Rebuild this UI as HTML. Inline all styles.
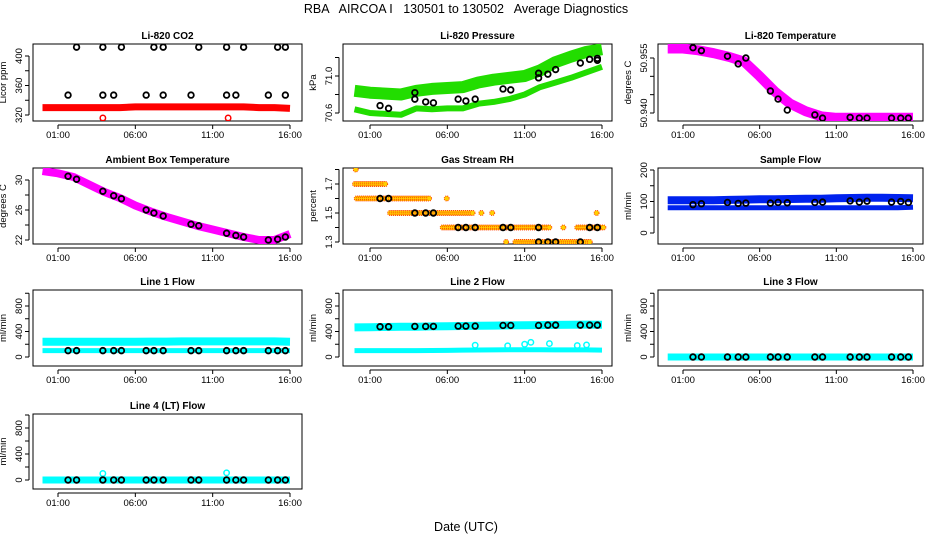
<!DOCTYPE html>
<html><head><meta charset="utf-8">
<style>
html,body{margin:0;padding:0;background:#fff;}
svg{display:block;font-family:"Liberation Sans",sans-serif;}
</style></head>
<body>
<svg id="chart" width="936" height="540" viewBox="0 0 936 540" xmlns="http://www.w3.org/2000/svg">
<rect width="936" height="540" fill="#fff"/>
<text x="466" y="13" font-size="12.5" text-anchor="middle" xml:space="preserve">RBA   AIRCOA I   130501 to 130502   Average Diagnostics</text>
<text x="466" y="531" font-size="12.5" text-anchor="middle">Date (UTC)</text>
</svg>
<script>
// ---- data ----
const xTickHours = [1, 6, 11, 16];
const xTickLabels = ["01:00", "06:00", "11:00", "16:00"];
const bandT = [0,1,2,3,4,5,6,7,8,9,10,11,12,13,14,15,16];
const avgT = [1.65,2.2,3.9,4.6,5.1,6.7,7.2,7.8,9.6,10.1,11.9,12.5,13.0,14.6,15.2,15.7];

const co2Red = [330,330,330,330,330,330,331,331,331,331,331,331,331,331,330,330,329];
const co2RedOutT = [3.9, 12.0];
const co2RedOutV = [316, 316];
const co2AvgT = [2.2,3.9,5.1,7.2,7.8,10.1,11.9,13.0,15.2,15.7,1.65,3.9,4.6,6.7,7.8,9.6,11.9,12.5,14.6,15.7];
const co2AvgV = [412,412,412,412,412,412,412,412,412,412,347,347,347,347,347,347,347,347,347,347];

const presUpper = [70.84,70.82,70.81,70.80,70.84,70.86,70.87,70.88,70.93,70.96,70.98,71.0,71.06,71.15,71.21,71.26,71.29];
const presLower = [70.64,70.60,70.59,70.58,70.65,70.64,70.65,70.65,70.70,70.72,70.75,70.80,70.88,70.93,70.98,71.04,71.10];
const presAvgT = [1.65,2.2,3.9,3.9,4.6,5.1,6.7,7.2,7.8,9.6,10.1,11.9,11.9,12.5,13.0,14.6,15.2,15.7,15.7];
const presAvgV = [70.68,70.65,70.82,70.75,70.72,70.71,70.75,70.73,70.75,70.86,70.85,70.98,71.03,71.02,71.07,71.14,71.18,71.19,71.17];

const liTemp = [50.9576,50.9576,50.9571,50.9563,50.9553,50.9540,50.9500,50.9458,50.9425,50.9405,50.9391,50.9387,50.9387,50.9387,50.9387,50.9387,50.9387];
const liTempAvgV = [50.9578,50.9570,50.9555,50.9534,50.9550,50.9460,50.9438,50.9408,50.9395,50.9386,50.9388,50.9386,50.9386,50.9386,50.9386,50.9386];

const ambTemp = [31.2,30.9,30.4,29.4,28.4,27.6,26.6,25.8,25.1,24.5,23.9,23.4,22.9,22.4,22.0,22.0,22.8];
const ambAvgV = [30.5,30.1,28.5,27.9,27.5,26.0,25.6,25.2,24.1,23.9,22.9,22.6,22.4,22.0,22.1,22.4];

const rhLevel = [1.8,1.7,1.6,1.6,1.5,1.5,1.5,1.5,1.4,1.4,1.4,1.3,1.3];
const rhStart = [0.08,0.03,0.14,5.96,2.3,8.2,8.9,15.65,5.7,13.5,14.4,9.8,10.4];
const rhEnd   = [0.08,2.0,4.9,5.96,7.7,8.2,8.9,15.65,12.6,13.5,16.1,9.8,15.3];
const rhAvgT = [1.65,2.2,3.9,4.6,5.1,6.7,7.2,7.8,9.6,10.1,11.9,11.9,12.5,13.0,14.6,15.2,15.7];
const rhAvgV = [1.6,1.6,1.5,1.5,1.5,1.4,1.4,1.4,1.4,1.4,1.4,1.3,1.3,1.3,1.3,1.4,1.4];

const sampUpper = [104,104,104,104,105,106,107,107,108,109,109,110,111,112,112,111,110];
const sampLower = [80,80,80,80,80,80,80,80,80,80,80,80,80,80,80,80,82];
const sampAvgV = [90,93,97,94,95,95,97,96,97,98,102,98,101,98,100,97];

const l1Upper = [240,240,240,240,240,240,240,242,242,244,244,244,244,244,244,244,240];
const l1Lower = [100,100,100,100,100,100,100,100,100,100,100,100,100,100,100,100,100];
const l1AvgV = [100,100,100,100,100,100,100,100,100,100,100,100,100,100,100,100];

const l2Upper = [465,468,470,473,476,480,483,486,490,493,496,498,500,503,506,508,505];
const l2Lower = [100,100,100,100,100,102,104,108,110,112,114,115,115,112,112,112,108];
const l2AvgV = [475,475,480,480,480,485,485,485,495,495,495,500,500,500,500,500];
const l2SpikeT = [7.8,9.9,11.0,11.4,12.6,14.4,15.0];
const l2SpikeV = [185,175,200,230,210,180,190];

const l3Band = [0,0,0,0,0,0,0,0,0,0,0,0,0,0,0,0,0];
const l3AvgV = [0,0,0,0,0,0,0,0,0,0,0,0,0,0,0,0];

const l4Band = [0,0,0,0,0,0,0,0,0,0,0,0,0,0,0,0,0];
const l4SpikeT = [3.9, 11.9];
const l4SpikeV = [100, 110];
const l4AvgV = [0,0,0,0,0,0,0,0,0,0,0,0,0,0,0,0];

// ---- drawing ----
const NS = "http://www.w3.org/2000/svg";
const svg = document.getElementById("chart");
const cols = [{l:33,r:302,x1:58,x16:290},{l:343,r:612,x1:370,x16:602},{l:658,r:923,x1:683,x16:913}];
const rows = [{t:44,b:121},{t:168,b:244},{t:290,b:366},{t:414,b:489}];

function mk(tag, attrs, parent){const e=document.createElementNS(NS,tag);for(const k in attrs)e.setAttribute(k,attrs[k]);(parent||svg).appendChild(e);return e;}

function panel(o){
  const c=cols[o.col], r=rows[o.row];
  const g=mk("g",{});
  
  
  const xs=h=>c.x1+(h-1)*(c.x16-c.x1)/15;
  const ys=v=>o.p1+(v-o.v1)*(o.p2-o.p1)/(o.v2-o.v1);
  const box=mk("rect",{x:c.l,y:r.t,width:c.r-c.l,height:r.b-r.t,fill:"none",stroke:"#000","stroke-width":1},g);
  
  
  const tt=mk("text",{x:(c.l+c.r)/2,y:r.t-5,"font-size":10,"font-weight":"bold","text-anchor":"middle"},g);
  tt.textContent=o.title;
  
  
  const xa=mk("g",{},g);
  
  
  mk("line",{x1:xs(xTickHours[0]),x2:xs(xTickHours[xTickHours.length-1]),y1:r.b+4,y2:r.b+4,stroke:"#000"},xa);
  xTickHours.forEach((h,i)=>{
    mk("line",{x1:xs(h),x2:xs(h),y1:r.b+4,y2:r.b+8,stroke:"#000"},xa);
    const t=mk("text",{x:xs(h),y:r.b+17,"font-size":9.5,"text-anchor":"middle"},xa);
    t.textContent=xTickLabels[i];
    
    
  });
  const ya=mk("g",{},g);
  
  
  const ax=c.l-4;
  mk("line",{x1:ax,x2:ax,y1:ys(o.yTicks[0]),y2:ys(o.yTicks[o.yTicks.length-1]),stroke:"#000"},ya);
  o.yTicks.forEach(v=>mk("line",{x1:ax-4,x2:ax,y1:ys(v),y2:ys(v),stroke:"#000"},ya));
  o.yLabels.forEach(v=>{
    const y=ys(v), x=ax-7;
    const t=mk("text",{x:x,y:y,"font-size":9.5,"text-anchor":"middle",transform:`rotate(-90 ${x} ${y})`},ya);
    t.textContent=o.fmt?o.fmt(v):String(v);
    
    
  });
  const yl=c.l-27, ym=(r.t+r.b)/2;
  const yt=mk("text",{x:yl,y:ym,"font-size":9.5,"text-anchor":"middle",transform:`rotate(-90 ${yl} ${ym})`},ya);
  yt.textContent=o.ylab;
  
  
  const clipId="clip"+o.col+o.row;
  const cp=mk("clipPath",{id:clipId},g);
  mk("rect",{x:c.l,y:r.t,width:c.r-c.l,height:r.b-r.t},cp);
  const dg=mk("g",{"clip-path":`url(#${clipId})`},g);
  (o.bands||[]).forEach(b=>{
    const pts=bandT.map((t,i)=>xs(t).toFixed(1)+","+ys(b.v[i]).toFixed(1)).join(" ");
    const pl=mk("polyline",{points:pts,fill:"none",stroke:b.color,"stroke-width":b.w,"stroke-linejoin":"round","stroke-linecap":"butt"},dg);
    
    
  });
  (o.extra||[]).forEach(e=>{
    e.t.forEach((t,i)=>{
      const ci=mk("circle",{cx:xs(t),cy:ys(e.v[i]),r:2.7,fill:"none",stroke:e.color,"stroke-width":1.5},dg);
      
      
    });
  });
  (o.segs||[]).forEach(s=>{
    s.level.forEach((lv,i)=>{
      for(let t=s.start[i]; t<=s.end[i]+1e-6; t+=0.13){
        const ci=mk("circle",{cx:xs(t),cy:ys(lv),r:2.5,fill:"#ffd000",stroke:"#ff4000","stroke-width":1,"stroke-dasharray":"1 1"},dg);
        
        
      }
    });
  });
  o.avgT.forEach((t,i)=>{
    const ci=mk("circle",{cx:xs(t),cy:ys(o.avgV[i]),r:2.8,fill:"none",stroke:"#000","stroke-width":1.8},dg);
    
    
  });
}

panel({name:"co2-panel",col:0,row:0,title:"Li-820 CO2",ylab:"Licor ppm",v1:320,p1:115,v2:400,p2:56,
  yTicks:[320,340,360,380,400],yLabels:[320,360,400],
  bands:[{v:co2Red,color:"#ff0000",w:7}],extra:[{t:co2RedOutT,v:co2RedOutV,color:"#ff0000"}],
  avgT:co2AvgT,avgV:co2AvgV});
panel({name:"pressure-panel",col:1,row:0,title:"Li-820 Pressure",ylab:"kPa",v1:70.6,p1:113,v2:71.0,p2:76,
  yTicks:[70.6,70.8,71.0,71.2],yLabels:[70.6,71.0],fmt:v=>v.toFixed(1),
  bands:[{v:presUpper,color:"#22dd00",w:12},{v:presLower,color:"#22dd00",w:6}],
  avgT:presAvgT,avgV:presAvgV});
panel({name:"li820-temperature-panel",col:2,row:0,title:"Li-820 Temperature",ylab:"degrees C",v1:50.940,p1:113,v2:50.955,p2:58,
  yTicks:[50.940,50.945,50.950,50.955],yLabels:[50.940,50.955],fmt:v=>v.toFixed(3),
  bands:[{v:liTemp,color:"#ff00ff",w:10}],avgT:avgT,avgV:liTempAvgV});
panel({name:"ambient-temperature-panel",col:0,row:1,title:"Ambient Box Temperature",ylab:"degrees C",v1:22,p1:240,v2:30,p2:180,
  yTicks:[22,24,26,28,30],yLabels:[22,26,30],
  bands:[{v:ambTemp,color:"#ff00ff",w:8}],avgT:avgT,avgV:ambAvgV});
panel({name:"gas-rh-panel",col:1,row:1,title:"Gas Stream RH",ylab:"percent",v1:1.3,p1:242,v2:1.7,p2:184,
  yTicks:[1.3,1.4,1.5,1.6,1.7,1.8],yLabels:[1.3,1.5,1.7],fmt:v=>v.toFixed(1),
  segs:[{level:rhLevel,start:rhStart,end:rhEnd}],avgT:rhAvgT,avgV:rhAvgV});
panel({name:"sample-flow-panel",col:2,row:1,title:"Sample Flow",ylab:"ml/min",v1:0,p1:233,v2:200,p2:170,
  yTicks:[0,50,100,150,200],yLabels:[0,100,200],
  bands:[{v:sampUpper,color:"#0022ee",w:8},{v:sampLower,color:"#0022ee",w:5}],avgT:avgT,avgV:sampAvgV});
panel({name:"line1-flow-panel",col:0,row:2,title:"Line 1 Flow",ylab:"ml/min",v1:0,p1:357,v2:800,p2:306,
  yTicks:[0,200,400,600,800,1000],yLabels:[0,400,800],
  bands:[{v:l1Upper,color:"#00ffff",w:8},{v:l1Lower,color:"#00ffff",w:5}],avgT:avgT,avgV:l1AvgV});
panel({name:"line2-flow-panel",col:1,row:2,title:"Line 2 Flow",ylab:"ml/min",v1:0,p1:357,v2:800,p2:306,
  yTicks:[0,200,400,600,800,1000],yLabels:[0,400,800],
  bands:[{v:l2Upper,color:"#00ffff",w:8},{v:l2Lower,color:"#00ffff",w:5}],
  extra:[{t:l2SpikeT,v:l2SpikeV,color:"#00ffff"}],avgT:avgT,avgV:l2AvgV});
panel({name:"line3-flow-panel",col:2,row:2,title:"Line 3 Flow",ylab:"ml/min",v1:0,p1:357,v2:800,p2:306,
  yTicks:[0,200,400,600,800,1000],yLabels:[0,400,800],
  bands:[{v:l3Band,color:"#00ffff",w:7}],avgT:avgT,avgV:l3AvgV});
panel({name:"line4-flow-panel",col:0,row:3,title:"Line 4 (LT) Flow",ylab:"ml/min",v1:0,p1:480,v2:800,p2:428,
  yTicks:[0,200,400,600,800,1000],yLabels:[0,400,800],
  bands:[{v:l4Band,color:"#00ffff",w:7}],extra:[{t:l4SpikeT,v:l4SpikeV,color:"#00ffff"}],avgT:avgT,avgV:l4AvgV});
</script>
</body></html>
